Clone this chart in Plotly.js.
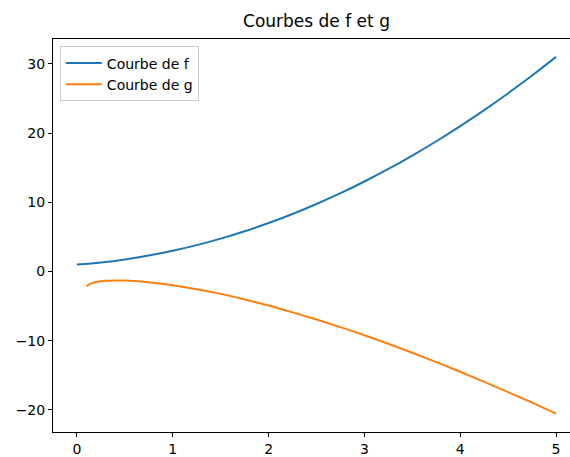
<!DOCTYPE html>
<html>
<head>
<meta charset="utf-8">
<script src="https://cdn.plot.ly/plotly-3.0.1.min.js"></script>
<style>
html, body { margin: 0; padding: 0; overflow: hidden; background: #fff; }
#chart { width: 582px; height: 457px; }
</style>
</head>
<body>
<div id="chart"></div>
<script>
// Data
const xF = [0, 0.25, 0.5, 0.75, 1, 1.25, 1.5, 1.75, 2, 2.25, 2.5, 2.75, 3, 3.25, 3.5, 3.75, 4, 4.25, 4.5, 4.75, 5];
const yF = [1, 1.31, 1.75, 2.31, 3, 3.81, 4.75, 5.81, 7, 8.31, 9.75, 11.31, 13, 14.81, 16.75, 18.81, 21, 23.31, 25.75, 28.31, 31];

const xG = [0.1, 0.15, 0.2, 0.3, 0.4, 0.5, 0.6, 0.7, 0.8, 0.9, 1.0, 1.25, 1.5, 1.75, 2.0, 2.25, 2.5, 2.75, 3.0, 3.25, 3.5, 3.75, 4.0, 4.25, 4.5, 4.75, 5.0];
const yG = [-2.1, -1.72, -1.53, -1.35, -1.29, -1.31, -1.38, -1.49, -1.62, -1.79, -1.98, -2.55, -3.23, -4.04, -4.92, -5.9, -6.94, -8.04, -9.21, -10.44, -11.73, -13.08, -14.48, -15.93, -17.42, -18.95, -20.52];

const seriesNames = ["Courbe de f", "Courbe de g"];
const chartTitle = "Courbes de f et g";
const xTicks = [0, 1, 2, 3, 4, 5];
const yTicks = [-20, -10, 0, 10, 20, 30];

const font = "DejaVu Sans, sans-serif";

const traces = [
  { x: xF, y: yF, name: seriesNames[0], mode: "lines", type: "scatter",
    line: { color: "#1f77b4", width: 2, shape: "spline", smoothing: 1 } },
  { x: xG, y: yG, name: seriesNames[1], mode: "lines", type: "scatter",
    line: { color: "#ff7f0e", width: 2, shape: "spline", smoothing: 1 } }
];

const axisCommon = {
  showgrid: false, zeroline: false,
  showline: true, mirror: true, linecolor: "#000", linewidth: 1,
  ticks: "outside", ticklen: 4, tickwidth: 1, tickcolor: "#000",
  tickfont: { family: font, size: 14, color: "#000" }
};

const layout = {
  width: 582, height: 457,
  paper_bgcolor: "#fff", plot_bgcolor: "#fff",
  margin: { l: 53, r: 2, t: 39, b: 25 },
  title: { text: chartTitle, x: 0.5, xref: "paper", y: 1 - 21 / 457, yref: "container",
           xanchor: "center", yanchor: "middle", font: { family: font, size: 17, color: "#000" } },
  xaxis: Object.assign({}, axisCommon, { range: [-0.25, 5.25], tickvals: xTicks }),
  yaxis: Object.assign({}, axisCommon, { range: [-23.18, 33.58], tickvals: yTicks }),
  showlegend: true,
  legend: { x: 0.013, y: 0.981, xanchor: "left", yanchor: "top", itemwidth: 36,
            bgcolor: "rgba(255,255,255,0.8)", bordercolor: "#cccccc", borderwidth: 1,
            font: { family: font, size: 14, color: "#000" } }
};

Plotly.newPlot("chart", traces, layout, { displayModeBar: false, staticPlot: true });
</script>
</body>
</html>
